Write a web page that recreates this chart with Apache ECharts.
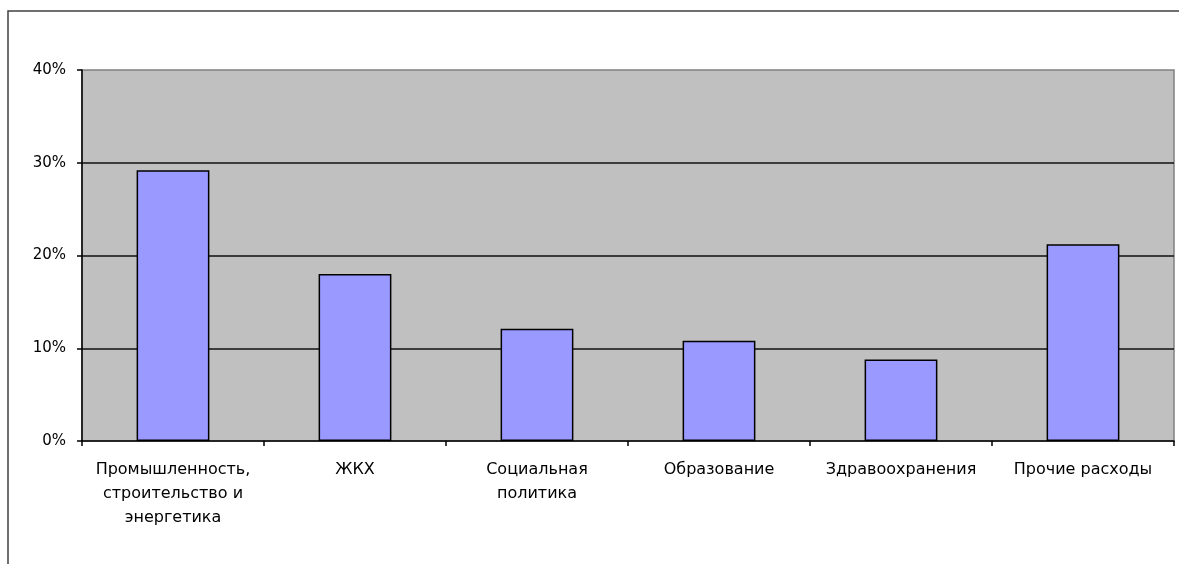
<!DOCTYPE html>
<html>
<head>
<meta charset="utf-8">
<script src="https://cdn.jsdelivr.net/npm/echarts@6/dist/echarts.min.js"></script>
<style>
html,body{margin:0;padding:0;background:#fff;}
#c{width:1179px;height:564px;}
</style>
</head>
<body>
<div id="c"></div>
<script>
const categories = ['Промышленность,\nстроительство и\nэнергетика', 'ЖКХ', 'Социальная\nполитика', 'Образование', 'Здравоохранения', 'Прочие расходы'];
const values = [0.292, 0.180, 0.121, 0.108, 0.088, 0.212];
const yTicks = [0, 0.1, 0.2, 0.3, 0.4];

const chart = echarts.init(document.getElementById('c'), null, {renderer: 'canvas'});
chart.setOption({
  animation: false,
  graphic: [{
    type: 'rect',
    shape: {x: 8, y: 11, width: 1200, height: 600},
    style: {fill: 'none', stroke: '#404040', lineWidth: 1.5},
    silent: true,
    z: -10
  }],
  grid: {
    left: 82, top: 70, right: 5, bottom: 123,
    show: true, backgroundColor: '#C0C0C0', borderColor: '#808080', borderWidth: 1.5
  },
  xAxis: {
    type: 'category',
    data: categories,
    boundaryGap: true,
    axisLine: {lineStyle: {color: '#000', width: 1.5}},
    axisTick: {show: true, length: 5, inside: false, lineStyle: {color: '#000', width: 1.5}},
    axisLabel: {
      interval: 0, margin: 17, color: '#000',
      fontFamily: 'DejaVu Sans', fontSize: 16, lineHeight: 24
    },
    splitLine: {show: false}
  },
  yAxis: {
    type: 'value',
    min: yTicks[0], max: yTicks[yTicks.length - 1], interval: 0.1,
    axisLine: {show: true, lineStyle: {color: '#000', width: 1.5}},
    axisTick: {show: true, length: 5, inside: false, lineStyle: {color: '#000', width: 1.5}},
    axisLabel: {
      margin: 16, color: '#000', fontFamily: 'DejaVu Sans', fontSize: 15,
      formatter: v => Math.round(v * 100) + '%'
    },
    splitLine: {show: true, showMaxLine: false, showMinLine: false, lineStyle: {color: '#111', width: 1.5}}
  },
  series: [{
    type: 'bar',
    data: values,
    barWidth: '40%',
    itemStyle: {color: '#9999FF', borderColor: '#000', borderWidth: 1.5}
  }]
});
</script>
</body>
</html>
